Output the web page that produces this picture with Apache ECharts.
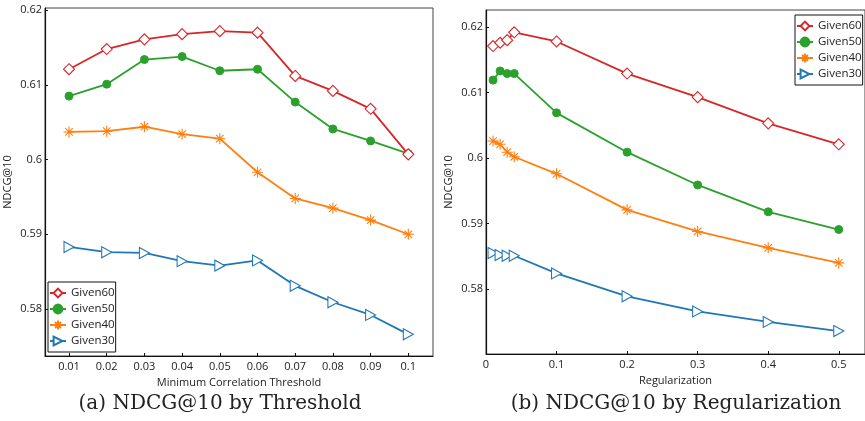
<!DOCTYPE html>
<html><head><meta charset="utf-8">
<script src="https://cdn.jsdelivr.net/npm/echarts@6/dist/echarts.min.js"></script>
<style>html,body{margin:0;padding:0;background:#fff}#c{width:865px;height:421px}</style>
</head><body><div id="c"></div>
<script>
// ---- data: left panel (threshold) ----
const thresholds = [0.01,0.02,0.03,0.04,0.05,0.06,0.07,0.08,0.09,0.1];
const thrGiven60 = [0.6121,0.6148,0.6161,0.6168,0.6172,0.6170,0.6112,0.6092,0.6068,0.6007];
const thrGiven50 = [0.6085,0.6101,0.6134,0.6138,0.6119,0.6121,0.6077,0.6041,0.6025,0.6008];
const thrGiven40 = [0.6037,0.6038,0.6044,0.6034,0.6028,0.5983,0.5948,0.5935,0.5919,0.5900];
const thrGiven30 = [0.5883,0.5876,0.5875,0.5864,0.5858,0.5865,0.5831,0.5809,0.5792,0.5766];
// ---- data: right panel (regularization) ----
const regs = [0.01,0.02,0.03,0.04,0.1,0.2,0.3,0.4,0.5];
const regGiven60 = [0.6171,0.6176,0.6180,0.6192,0.6178,0.6129,0.6093,0.6053,0.6021];
const regGiven50 = [0.6119,0.6133,0.6129,0.6129,0.6069,0.6009,0.5959,0.5918,0.5891];
const regGiven40 = [0.6026,0.6021,0.6009,0.6002,0.5976,0.5921,0.5888,0.5863,0.5840];
const regGiven30 = [0.5855,0.5852,0.5851,0.5851,0.5824,0.5789,0.5766,0.5750,0.5736];
// ---- ticks ----
const leftXTicks = [0.01,0.02,0.03,0.04,0.05,0.06,0.07,0.08,0.09,0.1];
const rightXTicks = [0,0.1,0.2,0.3,0.4,0.5];
const yTicks = [0.58,0.59,0.6,0.61,0.62];
const seriesNames = ['Given60','Given50','Given40','Given30'];

const colors = {Given60:'#d62728',Given50:'#2ca02c',Given40:'#ff7f0e',Given30:'#1f77b4'};
const asterisk = 'path://M5,0L5,10M0,5L10,5M1.6,1.6L8.4,8.4M1.6,8.4L8.4,1.6';
const diamond = 'path://M5,0L10,5L5,10L0,5Z';
const triRight = 'path://M0,0L10,5L0,10Z';
const markers = {
  Given60:{symbol:diamond,symbolSize:11,fill:'#fff',bw:1.1},
  Given50:{symbol:'circle',symbolSize:8,fill:null,bw:1},
  Given40:{symbol:asterisk,symbolSize:11,fill:null,bw:1.1},
  Given30:{symbol:triRight,symbolSize:[10,11],fill:'#fff',bw:1.1}
};
const FONT = 'Open Sans';
const fmt = v => String(Math.round(v*1000)/1000);

function pair(xs, ys){ return xs.map((x,i)=>[x,ys[i]]); }

function mkSeries(name, xs, ys, idx){
  const m = markers[name], c = colors[name];
  return {
    name, type:'line', xAxisIndex:idx, yAxisIndex:idx,
    data: pair(xs, ys),
    symbol:m.symbol, symbolSize:m.symbolSize,
    lineStyle:{color:c,width:1.8},
    itemStyle:{color:m.fill||c,borderColor:c,borderWidth:m.bw},
    emphasis:{disabled:true}, animation:false,
    z: {Given60:5,Given50:4,Given40:3,Given30:2}[name]
  };
}

function xAx(idx, min, max, ticks, name){
  return {
    type:'value', gridIndex:idx, min, max, name, nameLocation:'middle', nameGap:20,
    nameTextStyle:{fontFamily:FONT,fontSize:11,color:'#222'},
    axisLine:{show:true,onZero:false,lineStyle:{color:'#111',width:1.2}},
    axisTick:{show:true,inside:true,length:3,customValues:ticks,lineStyle:{color:'#111'}},
    axisLabel:{customValues:ticks,formatter:fmt,fontFamily:FONT,fontSize:11,color:'#222',margin:5},
    splitLine:{show:false}
  };
}
function yAx(idx, min, max){
  return {
    type:'value', gridIndex:idx, min, max, name:'NDCG@10', nameLocation:'middle', nameGap:32,
    nameTextStyle:{fontFamily:FONT,fontSize:11,color:'#222'},
    axisLine:{show:true,onZero:false,lineStyle:{color:'#111',width:1.2}},
    axisTick:{show:true,inside:true,length:3,customValues:yTicks,lineStyle:{color:'#111'}},
    axisLabel:{customValues:yTicks,formatter:fmt,fontFamily:FONT,fontSize:11,color:'#222',margin:3},
    splitLine:{show:false}
  };
}

function legend(left, top){
  return {
    data: seriesNames, orient:'vertical', left, top,
    padding:[4,1], itemGap:2, itemWidth:16, itemHeight:11,
    borderColor:'#111', borderWidth:1, backgroundColor:'#fff',
    textStyle:{fontFamily:FONT,fontSize:11.5,color:'#222',lineHeight:14},
    selectedMode:false
  };
}

const option = {
  animation:false,
  grid:[
    {left:45,top:8,width:388,height:348,show:true,borderColor:'#444',borderWidth:1},
    {left:486,top:10,width:390,height:344,show:true,borderColor:'#444',borderWidth:1}
  ],
  xAxis:[
    xAx(0,0.00363,0.10655,leftXTicks,'Minimum Correlation Threshold'),
    xAx(1,0,0.5372,rightXTicks,'Regularization')
  ],
  yAxis:[ yAx(0,0.5737,0.6203), yAx(1,0.5701,0.6226) ],
  legend:[ legend(48,282), legend(795,15) ],
  series:[
    mkSeries('Given30',thresholds,thrGiven30,0),
    mkSeries('Given40',thresholds,thrGiven40,0),
    mkSeries('Given50',thresholds,thrGiven50,0),
    mkSeries('Given60',thresholds,thrGiven60,0),
    mkSeries('Given30',regs,regGiven30,1),
    mkSeries('Given40',regs,regGiven40,1),
    mkSeries('Given50',regs,regGiven50,1),
    mkSeries('Given60',regs,regGiven60,1)
  ],
  graphic:[
    {type:'text',x:220,y:404,style:{text:'(a) NDCG@10 by Threshold',align:'center',verticalAlign:'middle',font:'20px "DejaVu Serif"',fill:'#222'}},
    {type:'text',x:676,y:404,style:{text:'(b) NDCG@10 by Regularization',align:'center',verticalAlign:'middle',font:'20px "DejaVu Serif"',fill:'#222'}}
  ]
};
const chart = echarts.init(document.getElementById('c'),null,{renderer:'canvas'});
chart.setOption(option);
</script></body></html>
